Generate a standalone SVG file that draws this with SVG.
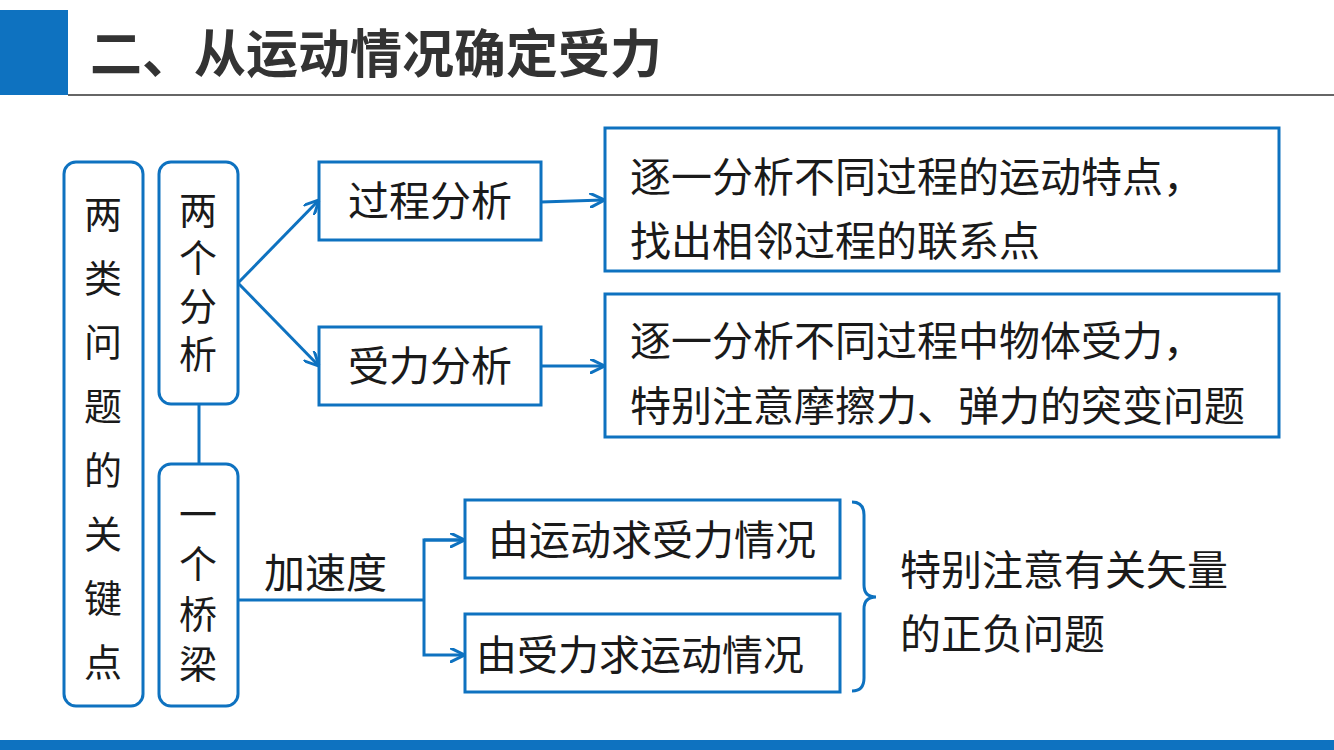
<svg xmlns="http://www.w3.org/2000/svg" width="1334" height="750" viewBox="0 0 1334 750">
<style>
.b{fill:#fff;stroke:#0e72c0;stroke-width:3}
.t{font-family:"Noto Sans CJK SC",sans-serif;font-size:41px;fill:#1a1a1a}
.v{font-family:"Noto Sans CJK SC",sans-serif;font-size:38px;fill:#1a1a1a}
.c{stroke:#0e72c0;stroke-width:3;fill:none}
</style>
<defs><marker id="a" viewBox="0 0 10 10" refX="9" refY="5" markerWidth="5" markerHeight="5" orient="auto"><path d="M0,0 L10,5 L0,10" fill="none" stroke="#0e72c0" stroke-width="2"/></marker></defs>
<rect width="1334" height="750" fill="#fff"/>
<rect x="0" y="10" width="68" height="85" fill="#0e72c0"/>
<line x1="68" y1="95" x2="1334" y2="95" stroke="#333" stroke-width="1.5"/>
<text x="90" y="73" font-family="Noto Sans CJK SC,sans-serif" font-size="52" font-weight="bold" fill="#333">二、从运动情况确定受力</text>
<rect x="0" y="740" width="1334" height="10" fill="#0e72c0"/>
<g id="n1"><rect class="b" x="64" y="162" width="79" height="544" rx="12"/>
<text class="v" text-anchor="middle"><tspan x="103" y="228">两</tspan><tspan x="103" y="292">类</tspan><tspan x="103" y="356">问</tspan><tspan x="103" y="420">题</tspan><tspan x="103" y="484">的</tspan><tspan x="103" y="548">关</tspan><tspan x="103" y="612">键</tspan><tspan x="103" y="676">点</tspan></text></g>
<g id="n2"><rect class="b" x="159" y="162" width="79" height="242" rx="12"/>
<text class="v" text-anchor="middle" font-size="34"><tspan x="198" y="224">两</tspan><tspan x="198" y="272">个</tspan><tspan x="198" y="320">分</tspan><tspan x="198" y="368">析</tspan></text></g>
<g id="n3"><rect class="b" x="159" y="464" width="79" height="242" rx="12"/>
<text class="v" text-anchor="middle"><tspan x="198" y="528">一</tspan><tspan x="198" y="578">个</tspan><tspan x="198" y="628">桥</tspan><tspan x="198" y="678">梁</tspan></text></g>
<g id="n4"><rect class="b" x="319" y="162" width="222" height="78"/><text class="t" x="430" y="216" text-anchor="middle">过程分析</text></g>
<g id="n5"><rect class="b" x="319" y="327" width="222" height="78"/><text class="t" x="430" y="381" text-anchor="middle">受力分析</text></g>
<g id="n6"><rect class="b" x="605" y="128" width="674" height="143"/><text class="t"><tspan x="630" y="192">逐一分析不同过程的运动特点，</tspan><tspan x="630" y="256">找出相邻过程的联系点</tspan></text></g>
<g id="n7"><rect class="b" x="605" y="294" width="674" height="143"/><text class="t"><tspan x="630" y="356">逐一分析不同过程中物体受力，</tspan><tspan x="630" y="421">特别注意摩擦力、弹力的突变问题</tspan></text></g>
<g id="n8"><rect class="b" x="465" y="500" width="375" height="78"/><text class="t" x="488" y="555">由运动求受力情况</text></g>
<g id="n9"><rect class="b" x="465" y="614" width="375" height="78"/><text class="t" x="476" y="670">由受力求运动情况</text></g>
<g id="n10"><text class="t"><tspan x="900" y="585">特别注意有关矢量</tspan><tspan x="900" y="649">的正负问题</tspan></text></g>
<g id="connectors">
<line class="c" x1="199" y1="404" x2="199" y2="464"/>
<line class="c" x1="238" y1="283" x2="318" y2="201" marker-end="url(#a)"/>
<line class="c" x1="238" y1="283" x2="318" y2="365" marker-end="url(#a)"/>
<line class="c" x1="541" y1="202" x2="603" y2="200" marker-end="url(#a)"/>
<line class="c" x1="541" y1="366" x2="603" y2="366" marker-end="url(#a)"/>
<polyline class="c" points="238,600 424,600"/>
<polyline class="c" points="463,540 424,540 424,655 463,655" marker-end="url(#a)"/>
<line class="c" x1="424" y1="540" x2="463" y2="540" marker-end="url(#a)"/>
<path class="c" d="M852,502 Q864,502 864,515 L864,585 Q864,597 876,597 Q864,597 864,609 L864,678 Q864,691 852,691"/>
<text class="t" x="264" y="588">加速度</text>
</g>
</svg>
